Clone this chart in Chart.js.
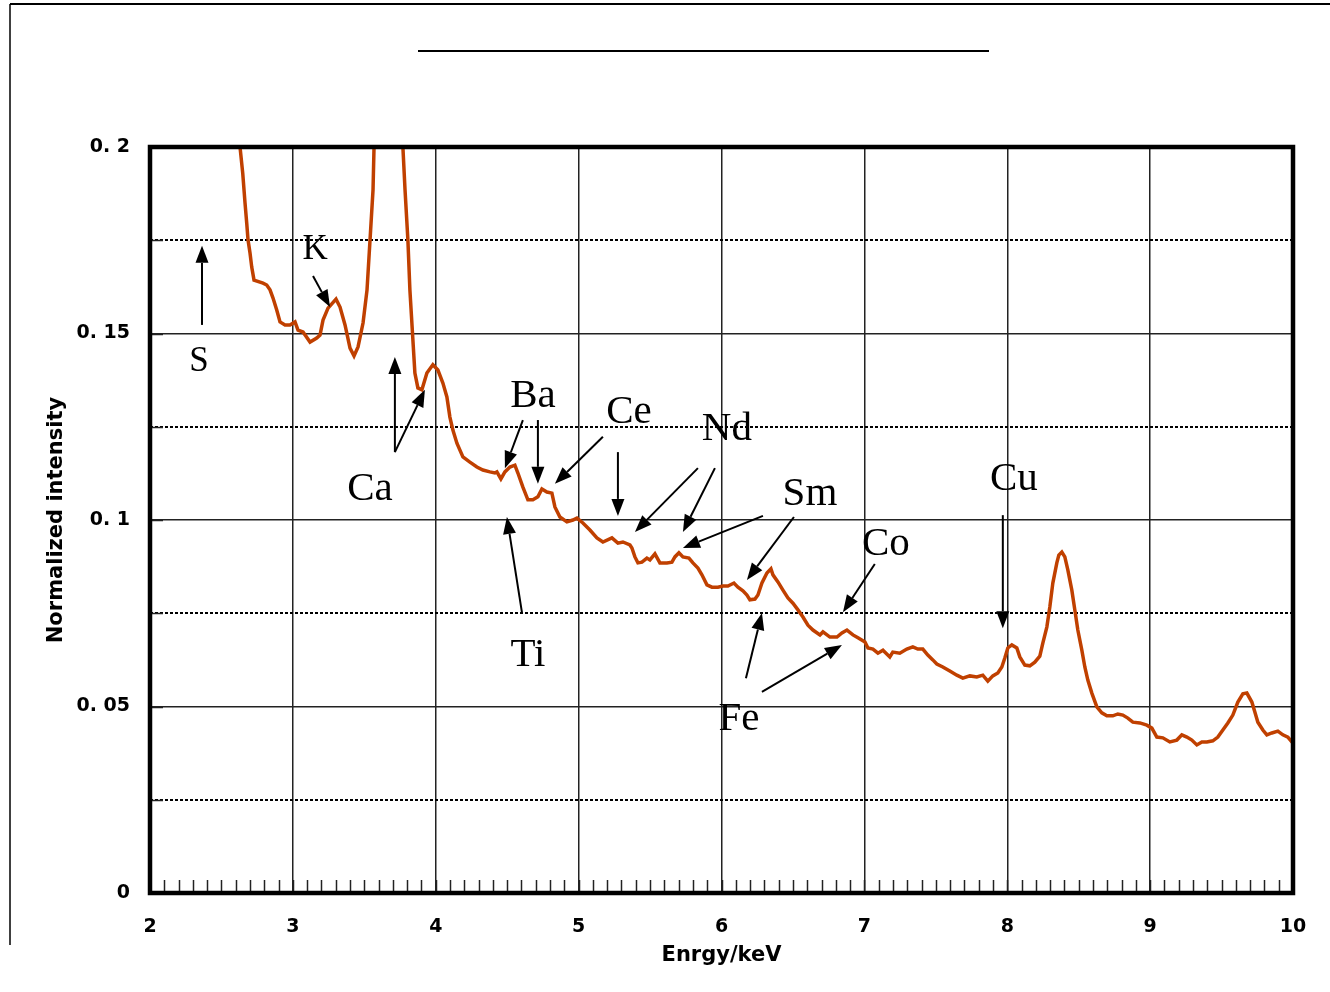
<!DOCTYPE html>
<html><head><meta charset="utf-8">
<script src="https://cdn.jsdelivr.net/npm/chart.js@4/dist/chart.umd.min.js"></script>
<style>html,body{margin:0;padding:0;background:#fff;}#wrap{width:1330px;height:992px;position:relative;}</style>
</head><body><div id="wrap"><canvas id="c" width="1330" height="992"></canvas></div>
<script>
// ---- data ----
const energy = [2.60,2.630,2.649,2.665,2.677,2.686,2.700,2.712,2.728,2.791,2.817,2.840,2.861,2.887,2.910,2.945,2.980,3.015,3.036,3.071,3.120,3.167,3.190,3.211,3.246,3.302,3.330,3.365,3.400,3.428,3.456,3.491,3.519,3.540,3.561,3.568,3.600,3.690,3.750,3.770,3.785,3.805,3.819,3.840,3.854,3.875,3.903,3.938,3.980,4.015,4.050,4.078,4.099,4.120,4.148,4.190,4.239,4.288,4.330,4.379,4.414,4.428,4.456,4.484,4.519,4.554,4.575,4.610,4.645,4.680,4.715,4.743,4.778,4.813,4.834,4.869,4.918,4.960,4.988,5.030,5.079,5.128,5.170,5.233,5.275,5.310,5.359,5.373,5.394,5.415,5.443,5.478,5.499,5.534,5.569,5.618,5.653,5.674,5.702,5.730,5.772,5.800,5.835,5.863,5.898,5.933,5.975,6.010,6.045,6.087,6.115,6.150,6.178,6.199,6.234,6.255,6.283,6.318,6.346,6.360,6.395,6.430,6.465,6.500,6.535,6.570,6.605,6.640,6.689,6.710,6.759,6.808,6.843,6.878,6.920,6.955,7.004,7.025,7.060,7.095,7.130,7.178,7.199,7.248,7.297,7.339,7.374,7.409,7.444,7.479,7.507,7.549,7.598,7.647,7.689,7.738,7.787,7.829,7.864,7.899,7.934,7.962,7.983,8.004,8.032,8.067,8.088,8.123,8.158,8.193,8.228,8.249,8.277,8.298,8.319,8.347,8.361,8.382,8.403,8.424,8.452,8.473,8.494,8.522,8.543,8.564,8.592,8.627,8.662,8.697,8.739,8.774,8.809,8.844,8.879,8.928,8.977,9.012,9.047,9.089,9.138,9.187,9.222,9.257,9.292,9.327,9.362,9.397,9.439,9.474,9.509,9.544,9.579,9.614,9.649,9.677,9.712,9.733,9.754,9.789,9.817,9.852,9.894,9.929,9.964,9.992,10.0];
const intensity = [0.235,0.200,0.1930,0.1850,0.1796,0.1751,0.1716,0.1678,0.1643,0.1635,0.1630,0.1617,0.1595,0.1563,0.1531,0.1523,0.1523,0.1531,0.1509,0.1504,0.1477,0.1488,0.1496,0.1536,0.1568,0.1592,0.1571,0.1523,0.1461,0.1440,0.1464,0.1528,0.1617,0.1751,0.1885,0.2000,0.2600,0.4000,0.2600,0.2000,0.1885,0.1751,0.1617,0.1483,0.1394,0.1354,0.1349,0.1394,0.1416,0.1402,0.1367,0.1330,0.1276,0.1241,0.1206,0.1169,0.1155,0.1142,0.1134,0.1129,0.1126,0.1129,0.1110,0.1129,0.1142,0.1147,0.1126,0.1088,0.1054,0.1054,0.1062,0.1083,0.1075,0.1072,0.1035,0.1008,0.0995,0.1000,0.1005,0.0992,0.0973,0.0952,0.0941,0.0952,0.0938,0.0941,0.0933,0.0925,0.0901,0.0885,0.0887,0.0898,0.0893,0.0909,0.0885,0.0885,0.0887,0.0901,0.0912,0.0901,0.0898,0.0885,0.0871,0.0853,0.0826,0.0820,0.0820,0.0823,0.0823,0.0831,0.0820,0.0810,0.0799,0.0786,0.0788,0.0799,0.0831,0.0858,0.0869,0.0853,0.0834,0.0812,0.0791,0.0777,0.0759,0.0740,0.0718,0.0705,0.0692,0.0700,0.0686,0.0686,0.0697,0.0705,0.0692,0.0684,0.0673,0.0657,0.0654,0.0643,0.0651,0.0633,0.0646,0.0643,0.0654,0.0660,0.0654,0.0654,0.0638,0.0625,0.0614,0.0606,0.0595,0.0584,0.0576,0.0582,0.0579,0.0584,0.0568,0.0582,0.0590,0.0606,0.0630,0.0657,0.0665,0.0657,0.0633,0.0611,0.0609,0.0619,0.0635,0.0670,0.0713,0.0767,0.0831,0.0885,0.0906,0.0914,0.0901,0.0866,0.0812,0.0759,0.0705,0.0651,0.0606,0.0571,0.0536,0.0499,0.0483,0.0475,0.0475,0.0480,0.0477,0.0469,0.0458,0.0456,0.0450,0.0442,0.0418,0.0416,0.0405,0.0410,0.0424,0.0418,0.0410,0.0397,0.0405,0.0405,0.0408,0.0418,0.0437,0.0456,0.0477,0.0512,0.0534,0.0536,0.0512,0.0485,0.0458,0.0437,0.0424,0.0429,0.0434,0.0424,0.0418,0.0405,0.0403];

const xTickValues = [2,3,4,5,6,7,8,9,10];
const yTickValues = [0,0.05,0.1,0.15,0.2];
const yDottedValues = [0.025,0.075,0.125,0.175];
const xMinorStep = 0.1;

// element labels (data coordinates: energy, intensity at text baseline)
const labelText = ['S','K','Ca','Ba','Ce','Nd','Sm','Co','Cu','Ti','Fe'];
const labelE    = [2.343,3.155,3.540,4.680,5.352,6.038,6.619,7.150,8.046,4.645,6.122];
const labelV    = [0.1399,0.1700,0.1054,0.1303,0.1260,0.1214,0.1040,0.0906,0.1080,0.0609,0.0437];
const labelSize = [35,35,41,41,41,41,41,41,41,41,41];

// arrows (tail -> tip) in data coordinates
const arrowFromE = [2.364,3.141,3.714,3.714,4.610,4.715,5.170,5.275,5.835,5.954,6.290,6.507,7.073,7.969,4.603,6.171,6.283];
const arrowFromV = [0.1523,0.1654,0.1182,0.1182,0.1268,0.1268,0.1223,0.1182,0.1139,0.1139,0.1011,0.1008,0.0882,0.1013,0.0753,0.0576,0.0539];
const arrowToE   = [2.364,3.260,3.714,3.924,4.484,4.715,4.834,5.275,5.394,5.730,5.730,6.178,6.850,7.969,4.498,6.283,6.843];
const arrowToV   = [0.1735,0.1571,0.1437,0.1349,0.1139,0.1097,0.1097,0.1011,0.0968,0.0968,0.0925,0.0839,0.0753,0.0710,0.1008,0.0751,0.0665];

const points = energy.map((e,i)=>({x:e, y:intensity[i]}));
const axisFont = {family:"'DejaVu Sans', Verdana, sans-serif", size:19, weight:'bold'};
const titleFont = {family:"'DejaVu Sans', Verdana, sans-serif", size:21, weight:'bold'};

const decor = {
  id:'decor',
  beforeDraw(chart){
    const ctx = chart.ctx;
    ctx.save();
    ctx.strokeStyle = '#000';
    ctx.lineWidth = 2;
    ctx.beginPath(); ctx.moveTo(10,4); ctx.lineTo(1330,4); ctx.stroke();
    ctx.lineWidth = 1.5;
    ctx.beginPath(); ctx.moveTo(10,4); ctx.lineTo(10,945); ctx.stroke();
    ctx.lineWidth = 2;
    ctx.beginPath(); ctx.moveTo(418,51); ctx.lineTo(989,51); ctx.stroke();
    ctx.restore();
  },
  afterDatasetsDraw(chart){
    const ctx = chart.ctx, a = chart.chartArea, xs = chart.scales.x, ys = chart.scales.y;
    ctx.save();
    // minor ticks
    ctx.strokeStyle = '#222'; ctx.lineWidth = 1.5;
    const n = Math.round((xs.max - xs.min)/xMinorStep);
    for (let i=1;i<n;i++){
      const px = Math.round(xs.getPixelForValue(xs.min + i*xMinorStep)) + 0.5;
      ctx.beginPath(); ctx.moveTo(px, a.bottom); ctx.lineTo(px, a.bottom-13); ctx.stroke();
    }
    yDottedValues.concat(yTickValues).forEach(v=>{
      const py = Math.round(ys.getPixelForValue(v)) + 0.5;
      ctx.beginPath(); ctx.moveTo(a.left, py); ctx.lineTo(a.left+13, py); ctx.stroke();
    });
    // frame
    ctx.strokeStyle = '#000'; ctx.lineWidth = 4.5;
    ctx.strokeRect(a.left, a.top, a.right-a.left, a.bottom-a.top);
    // arrows
    ctx.fillStyle = '#000'; ctx.strokeStyle = '#000'; ctx.lineWidth = 2;
    for (let i=0;i<arrowFromE.length;i++){
      const x1 = xs.getPixelForValue(arrowFromE[i]), y1 = ys.getPixelForValue(arrowFromV[i]);
      const x2 = xs.getPixelForValue(arrowToE[i]), y2 = ys.getPixelForValue(arrowToV[i]);
      const ang = Math.atan2(y2-y1, x2-x1), L = 17, W = 6.5;
      const bx = x2 - L*Math.cos(ang), by = y2 - L*Math.sin(ang);
      ctx.beginPath(); ctx.moveTo(x1,y1); ctx.lineTo(bx,by); ctx.stroke();
      ctx.beginPath(); ctx.moveTo(x2,y2);
      ctx.lineTo(bx + W*Math.sin(ang), by - W*Math.cos(ang));
      ctx.lineTo(bx - W*Math.sin(ang), by + W*Math.cos(ang));
      ctx.closePath(); ctx.fill();
    }
    // labels
    ctx.textAlign = 'center'; ctx.textBaseline = 'alphabetic';
    for (let i=0;i<labelText.length;i++){
      ctx.font = labelSize[i] + "px 'Liberation Serif','Times New Roman',serif";
      ctx.fillText(labelText[i], xs.getPixelForValue(labelE[i]), ys.getPixelForValue(labelV[i]));
    }
    ctx.restore();
  }
};

new Chart(document.getElementById('c'), {
  type:'line',
  data:{datasets:[{data:points, borderColor:'#C04000', borderWidth:3.5, pointRadius:0, tension:0, fill:false}]},
  options:{
    responsive:false, animation:false, devicePixelRatio:1,
    layout:{padding:{top:147,right:37,left:0,bottom:0}},
    plugins:{legend:{display:false}, tooltip:{enabled:false}},
    scales:{
      x:{type:'linear', min:2, max:10,
         afterBuildTicks:s=>{s.ticks = xTickValues.map(v=>({value:v}));},
         ticks:{font:axisFont, color:'#000', padding:23, maxRotation:0, callback:v=>String(v)},
         grid:{color:'#222', lineWidth:1.5, drawTicks:false},
         border:{display:false},
         title:{display:true, text:'Enrgy/keV', font:titleFont, color:'#000', padding:{top:0,bottom:24}},
         afterFit:s=>{s.height = 99;}},
      y:{type:'linear', position:'left', min:0, max:0.2,
         afterBuildTicks:s=>{s.ticks = yTickValues.map(v=>({value:v}));},
         ticks:{font:axisFont, color:'#000', padding:20,
                callback:v=>{const r=Math.round(v*100)/100; return r===0?'0':String(r).replace('.', '. ');}},
         grid:{color:'#222', lineWidth:1.5, drawTicks:false},
         border:{display:false},
         title:{display:true, text:'Normalized intensity', font:titleFont, color:'#000', padding:{top:44,bottom:0}},
         afterFit:s=>{s.width = 150;}},
      y2:{type:'linear', position:'left', min:0, max:0.2,
         afterBuildTicks:s=>{s.ticks = yDottedValues.map(v=>({value:v}));},
         ticks:{display:false},
         grid:{color:'#000', lineWidth:2, drawTicks:false},
         border:{display:false, dash:[3,2]},
         afterFit:s=>{s.width = 0;}}
    }
  },
  plugins:[decor]
});
</script></body></html>
